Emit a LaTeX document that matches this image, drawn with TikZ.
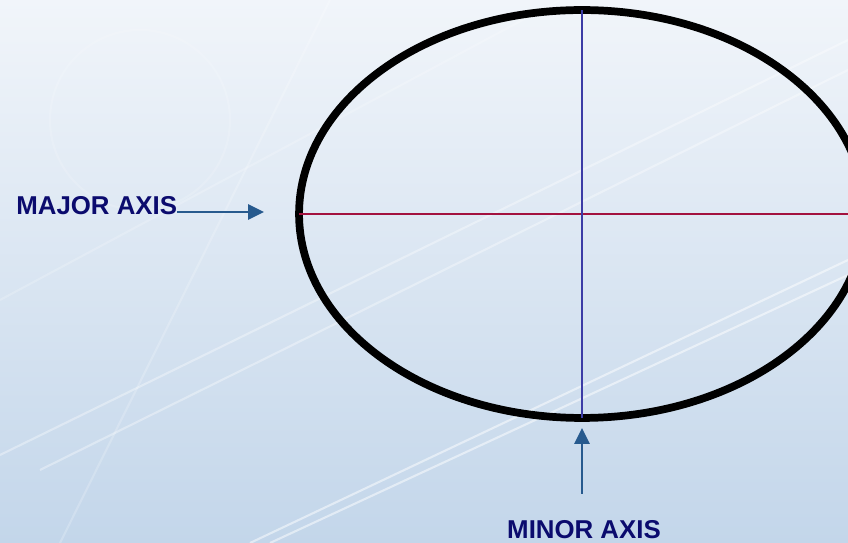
\documentclass[tikz,border=0pt]{standalone}
\usepackage{fontspec}
\setmainfont{Liberation Sans}
\usetikzlibrary{shapes.geometric,arrows.meta}
\definecolor{axink}{HTML}{0B0B6E}
\definecolor{axarrow}{HTML}{275A8E}
\definecolor{axmajor}{HTML}{A3123F}
\definecolor{axminor}{HTML}{3C3CA6}
\definecolor{bglight}{HTML}{F1F5FA}
\definecolor{bgdark}{HTML}{C3D6EA}
\tikzset{
  oval/.style={draw=black, shape=ellipse, line width=4.4pt, minimum width=11.32cm, minimum height=8.16cm, inner sep=0pt, outer sep=0pt},
  axlabel/.style={text=axink, font=\bfseries\fontsize{14.7}{17}\selectfont, inner sep=0pt},
  pointer/.style={draw=axarrow, line width=1.6pt, -{Triangle[length=9pt,width=8.5pt]}},
  streak/.style={white, opacity=.35, line width=1.2pt},
}

\begin{document}
\begin{tikzpicture}[x=0.02cm,y=-0.02cm]
    \useasboundingbox (0,0) rectangle (848,543);
    % background
    \shade[shading angle=30, top color=bglight, bottom color=bgdark] (0,0) rectangle (848,543);
    \draw[streak] (0,455) -- (848,40);
    \draw[streak] (40,470) -- (848,70);
    \draw[streak, opacity=.5] (250,543) -- (848,260);
    \draw[streak, opacity=.5] (270,543) -- (848,275);
    \draw[streak, opacity=.2] (0,300) -- (560,0);
    \draw[streak, opacity=.2] (60,543) -- (330,0);
    \draw[streak, opacity=.15] (140,120) circle (90);
    % ellipse and axes
    \draw (582,214) node[oval] (ell) {};
    \draw[axmajor, line width=1.5pt] (ell.west) -- (ell.east);
    \draw[axminor, line width=1.2pt] (ell.north) -- (ell.south);
    % labels
    \draw (16,206) node[axlabel, anchor=west] (major) {MAJOR AXIS};
    \draw (584,530) node[axlabel] (minor) {MINOR AXIS};
    \coordinate (majtip) at (264,212);
    \coordinate (mintip) at (582,428);
    \draw[pointer] (major.east |- majtip) -- (majtip);
    \draw[pointer] ([yshift=0.54cm]minor.north -| mintip) -- (mintip);
\end{tikzpicture}
\end{document}
